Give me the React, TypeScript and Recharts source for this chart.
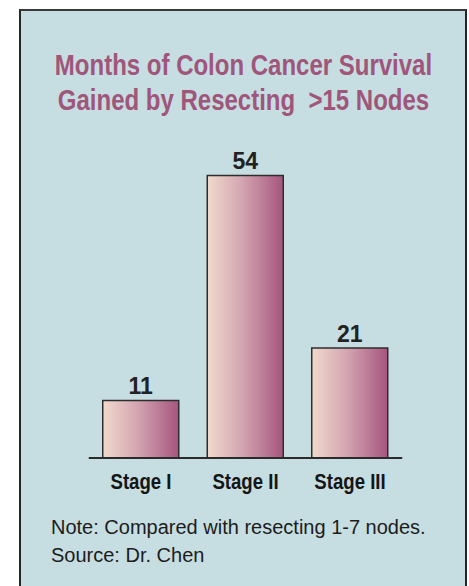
import { Bar, BarChart, LabelList, XAxis, YAxis } from "recharts";

const stages = ["Stage I", "Stage II", "Stage III"];
const monthsGained = [11, 54, 21];
const titleLines = [
  "Months of Colon Cancer Survival",
  "Gained by Resecting  >15 Nodes",
];
const noteLines = [
  "Note: Compared with resecting 1-7 nodes.",
  "Source: Dr. Chen",
];

const data = stages.map((stage, i) => ({ stage, months: monthsGained[i] }));

const sans = "'Liberation Sans', Arial, sans-serif";

// no narrow face installed, so squeeze the bold one horizontally
const squeeze = (x: number, k: number) =>
  `translate(${x},0) scale(${k},1) translate(${-x},0)`;

const StageTick = (props: any) => {
  const { x, y, payload } = props;
  return (
    <text
      x={x}
      y={y}
      dy={23}
      textAnchor="middle"
      fill="#151515"
      fontSize={23}
      fontWeight={700}
      fontFamily={sans}
      transform={squeeze(x, 0.81)}
    >
      {payload.value}
    </text>
  );
};

export default function App() {
  return (
    <div
      style={{
        position: "absolute",
        left: 0,
        top: 0,
        width: 469,
        height: 586,
        overflow: "hidden",
        background: "#ffffff",
      }}
    >
      <div
        style={{
          position: "absolute",
          left: 19,
          top: 9,
          width: 448,
          height: 620,
          boxSizing: "border-box",
          background: "#c6dee1",
          borderLeft: "2px solid #262626",
          borderRight: "2px solid #262626",
          borderTop: "2px solid #3a3a3a",
        }}
      />
      <div style={{ position: "absolute", left: 0, top: 0 }}>
        <BarChart
          width={469}
          height={520}
          data={data}
          margin={{ top: 144, right: 66.75, left: 88.75, bottom: 32 }}
          barSize={76}
        >
          <defs>
            <linearGradient id="barFill" x1="0" y1="0" x2="1" y2="0">
              <stop offset="0%" stopColor="#f1dacb" />
              <stop offset="45%" stopColor="#d4a6b2" />
              <stop offset="100%" stopColor="#a6557e" />
            </linearGradient>
          </defs>
          <YAxis hide domain={[0, 60]} />
          <XAxis
            dataKey="stage"
            axisLine={{ stroke: "#2b2b2b", strokeWidth: 2 }}
            tickLine={false}
            interval={0}
            tick={<StageTick />}
          />
          <Bar
            dataKey="months"
            fill="url(#barFill)"
            stroke="#2e2e2e"
            strokeWidth={1.5}
            isAnimationActive={false}
          >
            <LabelList
              dataKey="months"
              position="top"
              offset={6}
              fill="#222222"
              fontSize={23}
              fontWeight={700}
              fontFamily={sans}
            />
          </Bar>
        </BarChart>
      </div>
      <svg
        width={469}
        height={586}
        style={{ position: "absolute", left: 0, top: 0, pointerEvents: "none" }}
      >
        {titleLines.map((line, i) => (
          <text
            key={line}
            x={243.5}
            y={75 + i * 35}
            textAnchor="middle"
            fill="#a0557a"
            fontSize={30}
            fontWeight={700}
            fontFamily={sans}
            transform={squeeze(243.5, 0.8)}
            style={{ whiteSpace: "pre" }}
          >
            {line}
          </text>
        ))}
        {noteLines.map((line, i) => (
          <text
            key={line}
            x={51}
            y={534 + i * 28}
            fill="#1c1c1c"
            fontSize={20}
            fontFamily={sans}
          >
            {line}
          </text>
        ))}
      </svg>
    </div>
  );
}
